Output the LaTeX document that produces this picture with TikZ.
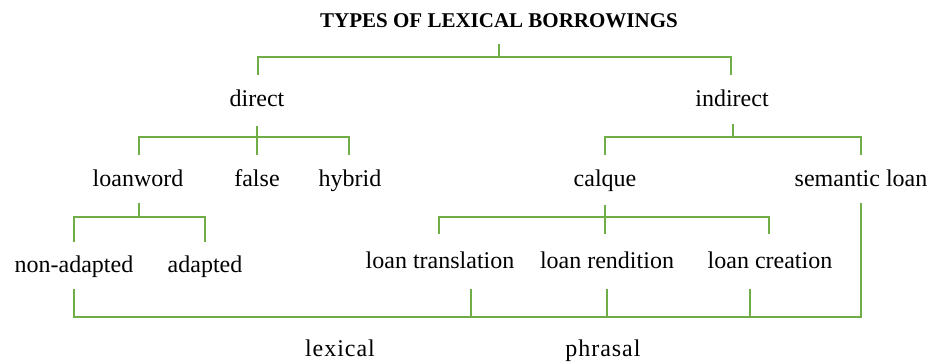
\documentclass[tikz,border=0pt]{standalone}
\usepackage{fontspec}
\setmainfont{Liberation Serif}
\usetikzlibrary{calc}
\definecolor{treegreen}{RGB}{112,173,71}
\begin{document}
\begin{tikzpicture}[x=1pt,y=-1pt,
  lbl/.style={inner sep=0pt, anchor=base, font=\fontsize{24}{28}\selectfont},
  ttl/.style={inner sep=0pt, anchor=base, font=\fontsize{21}{25}\selectfont\bfseries},
  spaced/.style={inner sep=0pt, anchor=base, font=\fontsize{24}{28}\selectfont\addfontfeature{LetterSpace=4}},
  conn/.style={draw=treegreen, line width=1.1pt}]
\useasboundingbox (0,0) rectangle (927,363);
% nodes
\node[ttl] (title) at (499,28) {TYPES OF LEXICAL BORROWINGS};
\node[lbl] (direct) at (257,107) {direct};
\node[lbl] (indirect) at (732,107) {indirect};
\node[lbl] (loanword) at (138,187) {loanword};
\node[lbl] (false) at (257,187) {false};
\node[lbl] (hybrid) at (350,187) {hybrid};
\node[lbl] (calque) at (605,187) {calque};
\node[lbl] (semantic) at (861,187) {semantic loan};
\node[lbl] (nonadapted) at (74,273) {non-adapted};
\node[lbl] (adapted) at (205,273) {adapted};
\node[lbl] (ltrans) at (440,269) {loan translation};
\node[lbl] (lrend) at (607,269) {loan rendition};
\node[lbl] (lcreat) at (770,269) {loan creation};
\node[spaced] (lexical) at (340,357) {lexical};
\node[spaced] (phrasal) at (603,357) {phrasal};
% junction coordinates
\coordinate (j0) at (499,57);
\coordinate (j1) at (257,137);
\coordinate (j2) at (733,137);
\coordinate (j3) at (139,217);
\coordinate (j4) at (605,217);
\coordinate (jb) at (74,317);
% title level
\draw[conn] ($(title.base)+(0,16)$) -- (j0);
\draw[conn] (j0) -- (258,57) -- (258,75);
\draw[conn] (j0) -- (731,57) -- (731,75);
% direct
\draw[conn] ($(direct.base)+(0,19)$) -- (j1) -- ($(false.base)+(0,-32)$);
\draw[conn] (j1) -- (139,137) -- ($(loanword.base)+(1,-32)$);
\draw[conn] (j1) -- (349,137) -- ($(hybrid.base)+(-1,-32)$);
% indirect
\draw[conn] ($(indirect.base)+(1,17)$) -- (j2);
\draw[conn] (j2) -- (605,137) -- ($(calque.base)+(0,-32)$);
\draw[conn] (j2) -- (861,137) -- ($(semantic.base)+(0,-32)$);
% loanword
\draw[conn] ($(loanword.base)+(1,16)$) -- (j3);
\draw[conn] (j3) -- (74,217) -- ($(nonadapted.base)+(0,-31)$);
\draw[conn] (j3) -- (205,217) -- ($(adapted.base)+(0,-31)$);
% calque
\draw[conn] ($(calque.base)+(0,18)$) -- (j4) -- ($(lrend.base)+(-2,-35)$);
\draw[conn] (j4) -- (439,217) -- ($(ltrans.base)+(-1,-35)$);
\draw[conn] (j4) -- (769,217) -- ($(lcreat.base)+(-1,-35)$);
% bottom bracket
\draw[conn] ($(nonadapted.base)+(0,16)$) -- (jb) -- (861,317) -- ($(semantic.base)+(0,16)$);
\draw[conn] ($(ltrans.base)+(31,20)$) -- (471,317);
\draw[conn] ($(lrend.base)+(0,20)$) -- (607,317);
\draw[conn] ($(lcreat.base)+(-20,20)$) -- (750,317);
\end{tikzpicture}
\end{document}
